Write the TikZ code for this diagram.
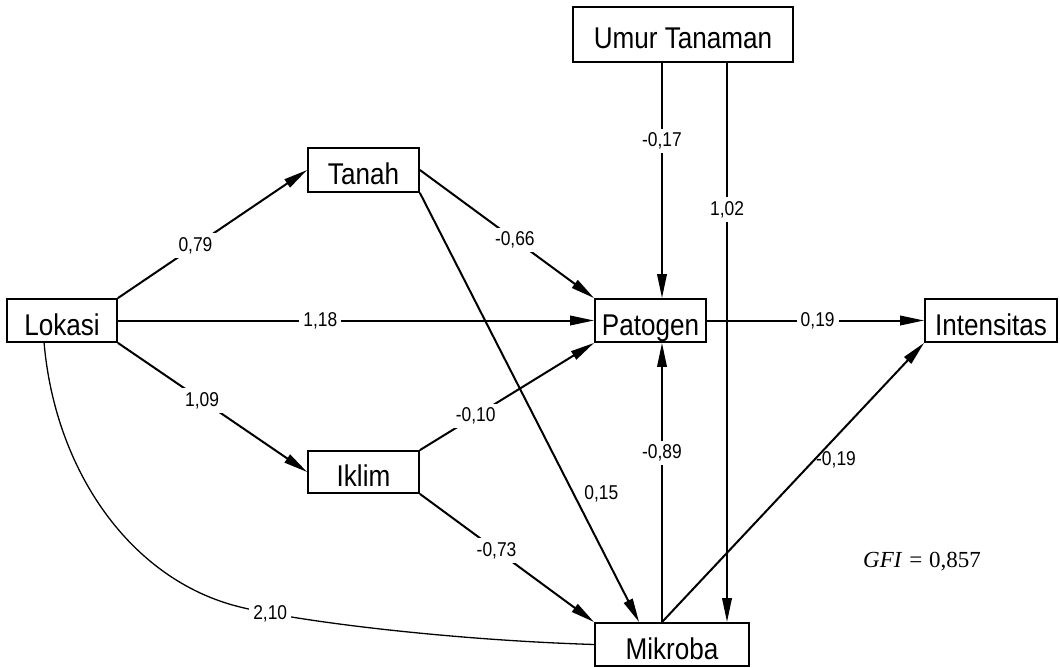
\documentclass[tikz,border=0pt]{standalone}
\usepackage{fontspec}
\newfontfamily\boxfont[FakeStretch=0.87]{Liberation Sans}
\newfontfamily\gfifont{Liberation Serif}
\usetikzlibrary{arrows.meta,calc}
\begin{document}
\begin{tikzpicture}[x=1pt,y=-1pt,
  var/.style={draw, line width=1.8pt, inner sep=0pt, text height=29pt, text depth=0pt,
              font=\boxfont\fontsize{30}{34}\selectfont},
  effect/.style={line width=2pt, -{Triangle[length=24pt,width=9.5pt]}},
  coef/.style={fill=white, inner sep=4pt, font=\boxfont\fontsize{20}{24}\selectfont},
  coefside/.style={inner sep=0pt, font=\boxfont\fontsize{20}{24}\selectfont},
]
\useasboundingbox (0,0) rectangle (1060,668);

% variables
\node[var, minimum width=220pt, minimum height=55pt] (umur) at (683,34.5) {Umur Tanaman};
\node[var, minimum width=111pt, minimum height=44pt] (tanah) at (363.5,170) {Tanah};
\node[var, minimum width=111pt, minimum height=43pt] (patogen) at (650.5,320.5) {Patogen};
\node[var, minimum width=110pt, minimum height=43pt] (lokasi) at (62,320.5) {Lokasi};
\node[var, minimum width=132pt, minimum height=43pt] (intensitas) at (991,320.5) {Intensitas};
\node[var, minimum width=111pt, minimum height=42pt] (iklim) at (363.5,472) {Iklim};
\node[var, minimum width=154pt, minimum height=43pt] (mikroba) at (672,644.5) {Mikroba};

% x positions of the vertical paths
\coordinate (xa) at (662,0);
\coordinate (xb) at (727,0);
\coordinate (mkin) at ($(mikroba.north west)+(45,0)$);
\coordinate (lkout) at ($(lokasi.south west)+(38,0)$);

% paths from Lokasi
\draw[effect] (lokasi.north east) -- node[coef,pos=0.41] {0,79} (tanah.west);
\draw[effect] (lokasi.east) -- node[coef,pos=0.425] {1,18} (patogen.west);
\draw[effect] (lokasi.south east) -- node[coef,pos=0.445] {1,09} (iklim.west);
\draw[line width=1.3pt] (lkout) .. controls (55,470) and (130,580) .. (240,607)
      .. controls (300,621.7) and (450,640) .. (mikroba.west) node[coef,pos=0.14] {2,10};

% paths from Tanah and Iklim
\draw[effect] (tanah.east) -- node[coef,pos=0.545] {-0,66} (patogen.north west);
\draw[effect] (iklim.north east) -- node[coef,pos=0.32] {-0,10} (patogen.south west);
\draw[effect] (iklim.south east) -- node[coef,pos=0.44] {-0,73} (mikroba.north west);
\draw[effect] (tanah.south east) -- node[coefside,pos=0.7,xshift=28pt] {0,15} (mkin);

% paths from Umur Tanaman
\draw[effect] (xa |- umur.south) -- node[coef,pos=0.333] {-0,17} (xa |- patogen.north);
\draw[effect] (xb |- umur.south) -- node[coef,pos=0.262] {1,02} (xb |- mikroba.north);

% paths from Mikroba and Patogen
\draw[effect] (xa |- mikroba.north) -- node[coef,pos=0.605] {-0,89} (xa |- patogen.south);
\draw[effect] (xa |- mikroba.north) -- node[coefside,pos=0.58,xshift=22pt] {-0,19} (intensitas.south west);
\draw[effect] (patogen.east) -- node[coef,pos=0.51] {0,19} (intensitas.west);

% fit index
\node[anchor=base west, inner sep=0pt, font=\gfifont\fontsize{23}{27}\selectfont] (gfi) at (863,567)
  {\textit{GFI}\hspace{0.3em}=\hspace{0.3em}0,857};
\end{tikzpicture}
\end{document}
